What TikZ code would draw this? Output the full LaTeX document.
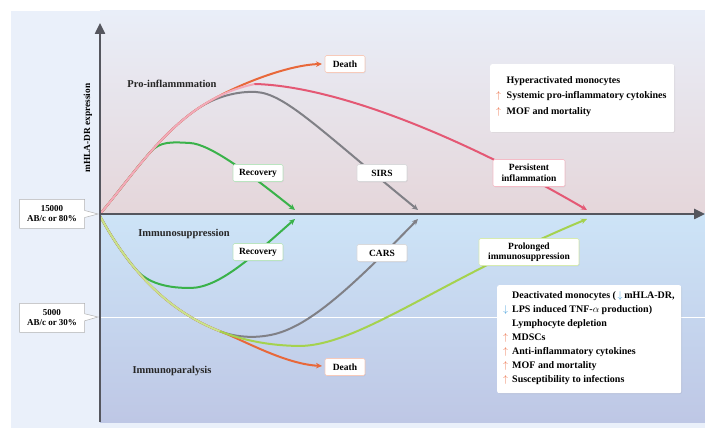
\documentclass[tikz,border=0pt]{standalone}
\usepackage{fontspec}
\setmainfont{Liberation Serif}
\usepackage{tikz}
\usetikzlibrary{positioning}
\usetikzlibrary{arrows.meta}
\usetikzlibrary{shapes.callouts}
\usetikzlibrary{shadows}
\definecolor{panel}{RGB}{234, 240, 250}
\definecolor{uptop}{RGB}{233, 238, 248}
\definecolor{upbot}{RGB}{229, 214, 218}
\definecolor{lotop}{RGB}{205, 228, 247}
\definecolor{lobot}{RGB}{190, 199, 229}
\definecolor{axisc}{RGB}{85, 86, 94}
\definecolor{pinkc}{RGB}{228, 88, 116}
\definecolor{pinkl}{RGB}{242, 170, 186}
\definecolor{greyc}{RGB}{128, 128, 134}
\definecolor{greenc}{RGB}{58, 178, 74}
\definecolor{yelc}{RGB}{165, 210, 78}
\definecolor{yell}{RGB}{200, 228, 140}
\definecolor{orc}{RGB}{232, 104, 58}
\definecolor{arrup}{RGB}{236, 112, 72}
\definecolor{arrdn}{RGB}{70, 160, 220}
\newcommand{\myup}{\textcolor{arrup}{$\uparrow$}}
\newcommand{\mydown}{\textcolor{arrdn}{$\downarrow$}}
\tikzset{
  tag/.style={draw=#1, fill=white, rounded corners=1.5pt, line width=0.6pt,
    font=\fontsize{9.5}{10.5}\selectfont\bfseries, align=center,
    minimum height=17pt, inner xsep=4pt, inner ysep=2pt,
    drop shadow={opacity=0.12, shadow xshift=0.8pt, shadow yshift=-0.8pt}},
  region/.style={font=\fontsize{10.5}{12}\selectfont\bfseries, text=black!85},
  infobox/.style={fill=white, rounded corners=2pt, align=left, anchor=north west,
    inner sep=0pt,
    drop shadow={opacity=0.12, shadow xshift=0.8pt, shadow yshift=-0.8pt}},
  level/.style={rectangle callout, draw=black!30, fill=white, line width=0.5pt,
    font=\fontsize{9}{10}\selectfont\bfseries, align=center,
    minimum width=65pt, minimum height=29pt, inner sep=1pt},
  curve/.style={line width=2pt, line cap=round},
  tip/.style={-{Stealth[length=6pt,width=5.5pt]}},
}
\begin{document}
\begin{tikzpicture}[x=1pt, y=1pt]
\useasboundingbox (0,0) rectangle (705,429);
% background panels
\fill[panel] (11,1) rectangle (705,418);
\shade[top color=uptop, bottom color=upbot] (100,215) rectangle (705,418);
\shade[top color=lotop, bottom color=lobot] (100,7) rectangle (705,215);
\draw[white, line width=0.8pt] (100,112) -- (705,112);
% named points on the curves
\coordinate (O) at (100,215);
\coordinate (Olo) at (100,213);
\coordinate (Pa) at (150.2,276.8);
\coordinate (Pb) at (196,319.2);
\coordinate (Ppeak) at (255,345);
\coordinate (Pend) at (587,219);
\coordinate (Send) at (418,219);
\coordinate (Gend) at (295,219);
\coordinate (Dend) at (322,365);
\coordinate (Ya) at (134.1,161.6);
\coordinate (Yb) at (220.3,97.6);
\coordinate (Ymin) at (300,83);
\coordinate (Yend) at (587,210);
\coordinate (Lend) at (295,210);
\coordinate (Cend) at (418,210);
\coordinate (Eend) at (322,63);
% upper branches
\draw[curve, tip, greenc] (O) .. controls (116,233.8) and (132,256) .. (Pa)
  .. controls (160,288) and (172,287) .. (190,286) .. controls (210,285) and (250,255) .. (Gend);
\draw[curve, tip, greyc] (O) .. controls (128,247.9) and (156,291.1) .. (Pb)
  .. controls (215,332.5) and (238,338) .. (256,337) .. controls (285,335.5) and (320,299) .. (Send);
\draw[curve, tip, orc] (O) .. controls (128,247.9) and (156,291.1) .. (Pb)
  .. controls (226,340.2) and (285,364) .. (Dend);
\draw[curve, pinkl] (O) .. controls (128,247.9) and (156,291.1) .. (Pb)
  .. controls (213.2,331.2) and (232.5,340.5) .. (Ppeak);
\draw[curve, tip, pinkc] (Ppeak) .. controls (330,343) and (450,299) .. (Pend);
% lower branches
\draw[curve, tip, greenc] (Olo) .. controls (110,194.5) and (121.25,177.2) .. (Ya)
  .. controls (145,148) and (162,141) .. (190,141) .. controls (220,141) and (255,175) .. (Lend);
\draw[curve, tip, greyc] (Olo) .. controls (128,161.2) and (165.8,118.7) .. (Yb)
  .. controls (235,92) and (255,90) .. (275,95) .. controls (310,104) and (350,140) .. (Cend);
\draw[curve, tip, orc] (Olo) .. controls (128,161.2) and (165.8,118.7) .. (Yb)
  .. controls (245.3,87.9) and (285,65) .. (Eend);
\draw[curve, yell] (Olo) .. controls (128,161.2) and (165.8,118.7) .. (Yb);
\draw[curve, tip, yelc] (Yb) .. controls (243.6,88.5) and (270,83.3) .. (Ymin)
  .. controls (360,84) and (440,149) .. (Yend);
% axes
\coordinate (ybot) at (100,7);
\coordinate (ytop) at (100,406);
\coordinate (xend) at (705,215);
\draw[axisc, line width=2.4pt, -{Triangle[length=11pt,width=10pt]}] (ybot) -- (ytop);
\draw[axisc, line width=2.4pt, -{Triangle[length=11pt,width=10pt]}] (O) -- (xend);
\node (ylab) [rotate=90, font=\fontsize{9.3}{10}\selectfont\bfseries] at (88,301) {mHLA-DR expression};
% region names
\node (pro) [region] at (172,345) {Pro-inflammmation};
\node (sup) [region] at (184,195) {Immunosuppression};
\node (par) [region] at (172,58) {Immunoparalysis};
% thresholds
\node (hi) [level, callout absolute pointer={(98,215)}] at (52,215) {15000\\AB/c or 80\%};
\node (lo) [level, callout absolute pointer={(98,112)}] at (52,111) {5000\\AB/c or 30\%};
% curve labels
\node (death1) [tag=orc!35, minimum width=40pt] at (345,365) {Death};
\node (rec1) [tag=greenc!35, minimum width=50pt] at (258,256) {Recovery};
\node (sirs) [tag=greyc!30, minimum width=50pt] at (382,256) {SIRS};
\node (pers) [tag=pinkc!40, minimum width=72pt, minimum height=27pt, inner ysep=1pt] at (529,256) {Persistent\\inflammation};
\node (rec2) [tag=greenc!35, minimum width=50pt] at (258,177) {Recovery};
\node (cars) [tag=greyc!30, minimum width=50pt] at (382,176) {CARS};
\node (prol) [tag=yelc!45, minimum width=100pt, minimum height=27pt, inner ysep=1pt] at (529,177) {Prolonged\\immunosuppression};
\node (death2) [tag=orc!35, minimum width=40pt] at (345,62) {Death};
% info boxes
\node (hyper) [infobox, minimum width=184pt, minimum height=68pt] at (490,365) {};
\node (hypertxt) [anchor=north west, align=left, inner sep=0pt,
  font=\fontsize{10}{15.5}\selectfont\bfseries] at (496,353)
  {\makebox[10.5pt][l]{}Hyperactivated monocytes\\
   \makebox[10.5pt][l]{\myup}Systemic pro-inflammatory cytokines\\
   \makebox[10.5pt][l]{\myup}MOF and mortality};
\node (deact) [infobox, minimum width=184pt, minimum height=108pt] at (497,144) {};
\node (deacttxt) [anchor=north west, align=left, inner sep=0pt,
  font=\fontsize{10}{14}\selectfont\bfseries] at (503,138)
  {\makebox[9pt][l]{}Deactivated monocytes (\,\mydown\,mHLA-DR,\\
   \makebox[9pt][l]{\mydown}LPS induced TNF-$\alpha$ production)\\
   \makebox[9pt][l]{}Lymphocyte depletion\\
   \makebox[9pt][l]{\myup}MDSCs\\
   \makebox[9pt][l]{\myup}Anti-inflammatory cytokines\\
   \makebox[9pt][l]{\myup}MOF and mortality\\
   \makebox[9pt][l]{\myup}Susceptibility to infections};
\end{tikzpicture}
\end{document}
